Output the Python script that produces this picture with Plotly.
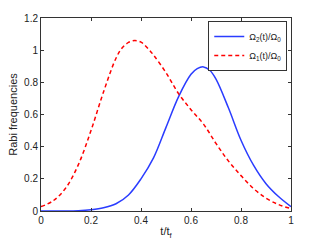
import plotly.graph_objects as go

t1 = [0.00, 0.05, 0.10, 0.15, 0.20, 0.25, 0.30, 0.325, 0.35, 0.375, 0.40, 0.425, 0.45, 0.50,
      0.55, 0.60, 0.65, 0.70, 0.75, 0.80, 0.85, 0.90, 0.95, 1.00]
omega1 = [0.027, 0.065, 0.145, 0.29, 0.50, 0.74, 0.95, 1.015, 1.048, 1.06, 1.05, 1.015, 0.97, 0.86,
          0.73, 0.63, 0.54, 0.42, 0.31, 0.22, 0.14, 0.08, 0.04, 0.015]
t2 = [0.00, 0.05, 0.10, 0.15, 0.20, 0.25, 0.30, 0.35, 0.40, 0.45, 0.50,
      0.55, 0.60, 0.625, 0.65, 0.675, 0.70, 0.75, 0.80, 0.85, 0.90, 0.95, 1.00]
omega2 = [0.0, 0.0, 0.0, 0.002, 0.008, 0.02, 0.045, 0.10, 0.20, 0.33, 0.52,
          0.71, 0.85, 0.885, 0.896, 0.875, 0.82, 0.64, 0.44, 0.285, 0.17, 0.09, 0.027]
xticks = [0, 0.2, 0.4, 0.6, 0.8, 1]
xticklabels = ["0", "0.2", "0.4", "0.6", "0.8", "1"]
yticks = [0, 0.2, 0.4, 0.6, 0.8, 1, 1.2]
yticklabels = ["0", "0.2", "0.4", "0.6", "0.8", "1", "1.2"]

fig = go.Figure()
fig.add_trace(go.Scatter(x=t2, y=omega2, mode="lines", line_shape="spline",
                         line=dict(color="#2a3cff", width=1.5, smoothing=1.0),
                         name="Ω<sub>2</sub>(t)/Ω<sub>0</sub>"))
fig.add_trace(go.Scatter(x=t1, y=omega1, mode="lines", line_shape="spline",
                         line=dict(color="#ff0000", width=1.5, dash="4px,3px", smoothing=1.0),
                         name="Ω<sub>1</sub>(t)/Ω<sub>0</sub>"))

axis_common = dict(showline=True, linecolor="#333333", linewidth=1, mirror="ticks",
                   ticks="inside", ticklen=3, tickcolor="#333333", showgrid=False,
                   zeroline=False, automargin=False, tickfont=dict(size=10, color="#222222"))
fig.update_xaxes(range=[0, 1], tickvals=xticks, ticktext=xticklabels,
                 title=dict(text="t/t<sub>f</sub>", font=dict(size=11, color="#222222"), standoff=2),
                 **axis_common)
fig.update_yaxes(range=[0, 1.2], tickvals=yticks, ticktext=yticklabels,
                 title=dict(text="Rabi frequencies", font=dict(size=11, color="#222222"), standoff=4),
                 **axis_common)
fig.update_layout(
    width=321, height=241,
    margin=dict(l=41, r=30, t=18, b=30),
    paper_bgcolor="white", plot_bgcolor="white",
    font=dict(family="Liberation Sans, Arial, sans-serif", size=10, color="#222222"),
    legend=dict(x=0.985, y=0.985, xanchor="right", yanchor="top",
                bordercolor="#333333", borderwidth=1, bgcolor="white",
                font=dict(size=9), tracegroupgap=0, itemwidth=30),
)
fig.write_html("out.html", config={"displayModeBar": False},
               post_script="document.body.style.margin='0';")
